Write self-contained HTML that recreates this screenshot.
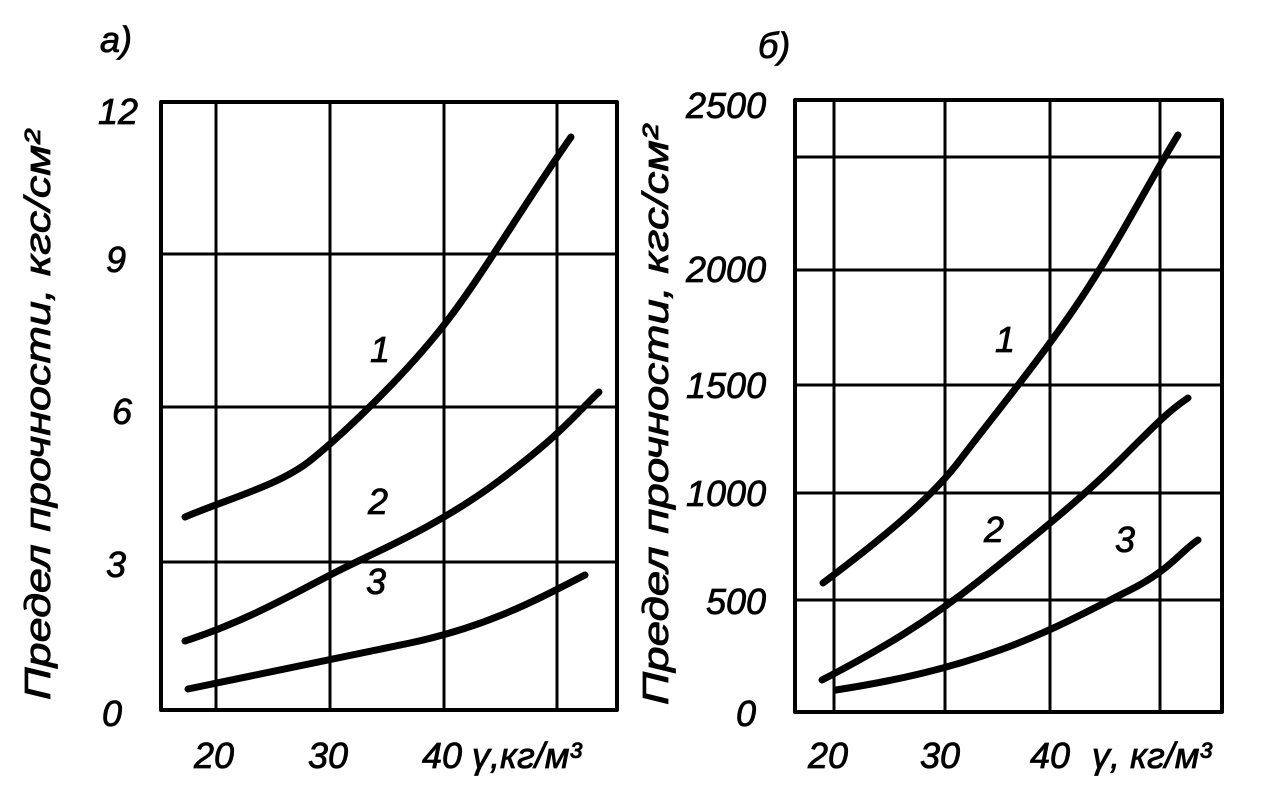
<!DOCTYPE html>
<html><head><meta charset="utf-8"><style>
html,body{margin:0;padding:0;background:#fff;}
svg{display:block}
text{font-family:"Liberation Sans",sans-serif;font-style:italic;fill:#000;stroke:#000;stroke-width:0.8px;}
</style></head><body>
<svg width="1272" height="803" viewBox="0 0 1272 803" xmlns="http://www.w3.org/2000/svg">
<g stroke="#000" fill="none" stroke-linecap="round" stroke-linejoin="round">
<rect x="161" y="102" width="456" height="608" stroke-width="4"/>
<g stroke-width="3">
<line x1="216" y1="102" x2="216" y2="710"/>
<line x1="330" y1="102" x2="330" y2="710"/>
<line x1="444" y1="102" x2="444" y2="710"/>
<line x1="557" y1="102" x2="557" y2="710"/>
<line x1="161" y1="254" x2="617" y2="254"/>
<line x1="161" y1="407" x2="617" y2="407"/>
<line x1="161" y1="562" x2="617" y2="562"/>
</g>
<g stroke-width="7">
<path d="M185,517 C230,498 280,485 311,460 S400,380 440,330 S520,210 571,137"/>
<path d="M185,641 C250,620 300,590 340,570 S440,525 500,480 S570,420 599,392"/>
<path d="M188,689 C260,674 330,660 410,643 S540,598 585,575"/>
</g>
<rect x="795" y="100" width="427" height="612" stroke-width="4"/>
<g stroke-width="3">
<line x1="834" y1="100" x2="834" y2="712"/>
<line x1="945" y1="100" x2="945" y2="712"/>
<line x1="1050" y1="100" x2="1050" y2="712"/>
<line x1="1160" y1="100" x2="1160" y2="712"/>
<line x1="795" y1="157" x2="1222" y2="157"/>
<line x1="795" y1="270" x2="1222" y2="270"/>
<line x1="795" y1="385" x2="1222" y2="385"/>
<line x1="795" y1="493" x2="1222" y2="493"/>
<line x1="795" y1="600" x2="1222" y2="600"/>
</g>
<g stroke-width="7">
<path d="M823,583 C880,540 930,500 960,460 S1040,360 1080,300 S1150,180 1178,135"/>
<path d="M822,680 C880,650 930,620 980,580 S1080,500 1120,460 S1170,410 1188,398"/>
<path d="M836,690 C900,680 950,668 1000,650 S1090,610 1130,590 S1180,552 1198,540"/>
</g>
</g>
<g font-size="36">
<text x="100" y="52">а)</text>
<text x="758" y="58">б)</text>
<text x="98" y="124">12</text>
<text x="106" y="272">9</text>
<text x="112" y="424">6</text>
<text x="106" y="577">3</text>
<text x="102" y="726">0</text>
<text x="194" y="768">20</text>
<text x="308" y="768">30</text>
<text x="422" y="768">40 γ,кг/м³</text>
<text x="686" y="118">2500</text>
<text x="686" y="282">2000</text>
<text x="686" y="398">1500</text>
<text x="686" y="506">1000</text>
<text x="706" y="614">500</text>
<text x="736" y="726">0</text>
<text x="808" y="768">20</text>
<text x="920" y="768">30</text>
<text x="1030" y="768">40</text>
<text x="1092" y="768">γ, кг/м³</text>
<text x="370" y="362">1</text>
<text x="368" y="514">2</text>
<text x="366" y="594">3</text>
<text x="995" y="352">1</text>
<text x="984" y="542">2</text>
<text x="1115" y="552">3</text>
<text transform="translate(50,415) rotate(-90)" text-anchor="middle" textLength="570" lengthAdjust="spacingAndGlyphs">Предел прочности, кгс/см²</text>
<text transform="translate(668,415) rotate(-90)" text-anchor="middle" textLength="580" lengthAdjust="spacingAndGlyphs">Предел прочности, кгс/см²</text>
</g>
</svg>
</body></html>
